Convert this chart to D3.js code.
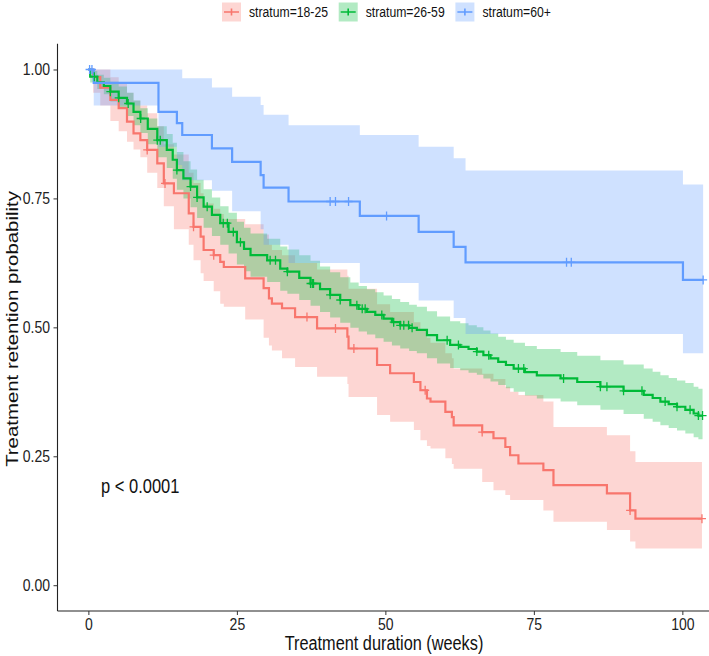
<!DOCTYPE html>
<html>
<head>
<meta charset="utf-8">
<script src="https://cdn.jsdelivr.net/npm/d3@7"></script>
<style>
  html, body { margin: 0; padding: 0; background: #fff; }
  text { font-family: "Liberation Sans", Arial, sans-serif; }
</style>
</head>
<body>
<div id="chart"></div>
<script>
// strata
var strata = ["stratum=18-25", "stratum=26-59", "stratum=60+"];
var colors = ["#F8766D", "#00BA38", "#619CFF"];

// Kaplan-Meier steps: [week, survival, lower CI, upper CI]
var steps1825 = [
  [0, 1.000, 1.000, 1.000], [0.8, 0.985, 0.955, 1.000], [2.0, 0.965, 0.930, 1.000],
  [3.7, 0.941, 0.900, 0.985], [5.1, 0.925, 0.880, 0.975], [6.5, 0.899, 0.860, 0.955],
  [7.6, 0.876, 0.845, 0.940], [8.75, 0.863, 0.830, 0.930], [9.9, 0.844, 0.800, 0.915],
  [11.6, 0.818, 0.770, 0.890], [12.7, 0.779, 0.735, 0.855], [14.4, 0.760, 0.690, 0.835],
  [16.9, 0.721, 0.660, 0.800], [17.7, 0.695, 0.630, 0.780], [18.9, 0.676, 0.605, 0.760],
  [19.4, 0.650, 0.590, 0.740], [21.1, 0.640, 0.570, 0.730], [22.2, 0.627, 0.546, 0.720],
  [22.8, 0.617, 0.540, 0.710], [26.4, 0.595, 0.515, 0.700], [29.5, 0.576, 0.480, 0.680],
  [30.4, 0.556, 0.465, 0.660], [30.9, 0.546, 0.455, 0.650], [32.6, 0.537, 0.440, 0.640],
  [34.8, 0.520, 0.423, 0.625], [38.5, 0.498, 0.404, 0.612], [43.6, 0.482, 0.390, 0.600],
  [43.8, 0.459, 0.365, 0.575], [48.6, 0.427, 0.330, 0.545], [50.8, 0.411, 0.317, 0.530],
  [54.8, 0.394, 0.301, 0.510], [55.9, 0.378, 0.281, 0.495], [57.0, 0.362, 0.270, 0.480],
  [57.6, 0.356, 0.265, 0.470], [60.1, 0.336, 0.246, 0.450], [61.2, 0.326, 0.235, 0.440],
  [61.5, 0.310, 0.226, 0.420], [66.3, 0.297, 0.200, 0.410], [68.2, 0.285, 0.184, 0.400],
  [70.2, 0.268, 0.175, 0.385], [71.0, 0.252, 0.165, 0.375], [72.4, 0.236, 0.165, 0.369],
  [76.6, 0.223, 0.145, 0.356], [78.3, 0.194, 0.123, 0.307], [87.3, 0.178, 0.107, 0.291],
  [91.2, 0.145, 0.085, 0.260], [92.1, 0.129, 0.071, 0.239]
];
var steps2659 = [
  [0, 1.000, 1.000, 1.000], [0.3, 0.986, 0.975, 0.997], [1.5, 0.975, 0.962, 0.990],
  [2.6, 0.968, 0.952, 0.984], [3.7, 0.957, 0.938, 0.976], [5.1, 0.945, 0.924, 0.967],
  [6.5, 0.934, 0.910, 0.955], [7.6, 0.918, 0.892, 0.940], [8.75, 0.905, 0.877, 0.925],
  [10.0, 0.885, 0.855, 0.905], [11.6, 0.863, 0.830, 0.890], [13.2, 0.844, 0.809, 0.875],
  [14.2, 0.825, 0.788, 0.858], [14.9, 0.805, 0.767, 0.840], [16.0, 0.789, 0.750, 0.822],
  [17.2, 0.773, 0.733, 0.806], [18.3, 0.752, 0.712, 0.786], [19.4, 0.734, 0.693, 0.768],
  [20.8, 0.718, 0.677, 0.752], [22.2, 0.702, 0.660, 0.735], [23.6, 0.685, 0.643, 0.722],
  [25.0, 0.665, 0.622, 0.705], [26.2, 0.652, 0.609, 0.693], [27.3, 0.640, 0.598, 0.682],
  [30.1, 0.630, 0.588, 0.672], [32.3, 0.614, 0.571, 0.657], [33.5, 0.608, 0.565, 0.651],
  [35.5, 0.596, 0.553, 0.640], [37.4, 0.585, 0.542, 0.629], [39.0, 0.574, 0.530, 0.618],
  [40.7, 0.563, 0.519, 0.607], [42.4, 0.553, 0.509, 0.597], [44.1, 0.543, 0.499, 0.587],
  [45.5, 0.536, 0.492, 0.580], [46.9, 0.530, 0.486, 0.574], [48.3, 0.524, 0.479, 0.568],
  [49.7, 0.517, 0.472, 0.562], [51.1, 0.510, 0.465, 0.555], [52.5, 0.504, 0.459, 0.549],
  [54.0, 0.499, 0.454, 0.544], [55.3, 0.495, 0.450, 0.540], [57.0, 0.485, 0.440, 0.531],
  [58.7, 0.475, 0.430, 0.521], [60.9, 0.466, 0.421, 0.512], [62.6, 0.462, 0.417, 0.508],
  [64.0, 0.458, 0.412, 0.504], [65.4, 0.453, 0.408, 0.500], [66.5, 0.446, 0.401, 0.494],
  [67.7, 0.440, 0.395, 0.488], [69.0, 0.433, 0.388, 0.482], [70.3, 0.427, 0.382, 0.476],
  [71.6, 0.420, 0.375, 0.470], [73.5, 0.413, 0.368, 0.464], [75.5, 0.407, 0.362, 0.458],
  [79.5, 0.401, 0.356, 0.452], [82.3, 0.394, 0.349, 0.445], [86.2, 0.385, 0.340, 0.436],
  [90.1, 0.377, 0.332, 0.428], [93.5, 0.369, 0.323, 0.420], [95.0, 0.363, 0.317, 0.414],
  [96.3, 0.356, 0.310, 0.407], [97.7, 0.351, 0.305, 0.402], [99.1, 0.346, 0.300, 0.397],
  [100.5, 0.340, 0.294, 0.392], [101.9, 0.333, 0.287, 0.385], [102.7, 0.329, 0.283, 0.381]
];
var steps60 = [
  [0, 1.000, 1.000, 1.000], [0.9, 0.974, 0.930, 1.000], [11.8, 0.918, 0.850, 1.000],
  [14.9, 0.896, 0.815, 1.000], [15.8, 0.873, 0.785, 0.983], [20.8, 0.847, 0.765, 0.965],
  [24.2, 0.821, 0.725, 0.947], [29.0, 0.795, 0.690, 0.931], [29.5, 0.771, 0.660, 0.912],
  [33.7, 0.744, 0.625, 0.892], [45.7, 0.716, 0.586, 0.873], [55.6, 0.685, 0.552, 0.850],
  [61.5, 0.656, 0.518, 0.828], [63.5, 0.626, 0.487, 0.804], [100.1, 0.592, 0.450, 0.777]
];
var endWeeks = [103.3, 103.4, 103.5];

// censoring times (weeks)
var censor1825 = [9.9, 12.9, 17.7, 21.1, 36.8, 41.6, 44.7, 56.7, 66.3, 91.2, 103.3];
var censor2659 = [1.0, 3.7, 5.1, 6.7, 8.8, 11.6, 12.1, 14.9, 17.2, 18.3, 20.0, 22.7, 23.4,
  24.4, 25.6, 30.6, 31.5, 33.5, 37.4, 37.7, 37.9, 40.7, 42.4, 45.2, 46.1, 46.6, 49.4, 51.4,
  52.5, 53.1, 53.9, 54.5, 60.4, 62.3, 65.4, 67.4, 72.4, 73.3, 80.0, 86.2, 87.3, 90.1, 93.2,
  97.1, 99.1, 101.3, 102.7, 103.4];
var censor60 = [0.2, 0.6, 40.7, 41.6, 43.8, 50.2, 80.5, 81.3, 103.5];

var xTicks = [0, 25, 50, 75, 100];
var yTicks = [0, 0.25, 0.5, 0.75, 1];
var pText = "p < 0.0001";

(function() {
  var series = [steps1825, steps2659, steps60];
  var censors = [censor1825, censor2659, censor60];

  var W = 709, H = 656;
  var svg = d3.select("#chart").append("svg")
    .attr("width", W).attr("height", H);

  // panel (theme_classic, data expanded 5% on each side)
  var pLeft = 57.5, pRight = 737, pTop = 43.7, pBottom = 611;
  var x = d3.scaleLinear().domain([-5.2, 109.2]).range([pLeft, pRight]);
  var y = d3.scaleLinear().domain([-0.05, 1.05]).range([pBottom, pTop]);

  // glyphs in the picture are stretched vertically
  var stretch = 1.2;

  svg.append("clipPath").attr("id", "panel")
    .append("rect").attr("x", pLeft).attr("y", pTop)
    .attr("width", pRight - pLeft).attr("height", pBottom - pTop);

  var plot = svg.append("g").attr("clip-path", "url(#panel)");

  function withEnd(rows, end) {
    var last = rows[rows.length - 1];
    return rows.concat([[end, last[1], last[2], last[3]]]);
  }

  var band = d3.area().curve(d3.curveStepAfter)
    .x(function(d) { return x(d[0]); })
    .y0(function(d) { return y(d[2]); })
    .y1(function(d) { return y(d[3]); });

  var line = d3.line().curve(d3.curveStepAfter)
    .x(function(d) { return x(d[0]); })
    .y(function(d) { return y(d[1]); });

  // ribbons
  series.forEach(function(rows, i) {
    plot.append("path")
      .datum(withEnd(rows, endWeeks[i]))
      .attr("fill", colors[i])
      .attr("fill-opacity", 0.3)
      .attr("d", band);
  });

  // survival curves
  series.forEach(function(rows, i) {
    plot.append("path")
      .datum(withEnd(rows, endWeeks[i]))
      .attr("fill", "none")
      .attr("stroke", colors[i])
      .attr("stroke-width", 2.2)
      .attr("d", line);
  });

  // censor marks
  function survAt(rows, t) {
    var s = rows[0][1];
    rows.forEach(function(r) { if (r[0] <= t) s = r[1]; });
    return s;
  }
  var cross = "M-4,0H4M0,-4.5V4.5";
  censors.forEach(function(times, i) {
    plot.append("g").selectAll("path")
      .data(times)
      .enter().append("path")
      .attr("transform", function(t) {
        return "translate(" + x(t) + "," + y(survAt(series[i], t)) + ")";
      })
      .attr("d", cross)
      .attr("stroke", colors[i])
      .attr("stroke-width", 1.3)
      .attr("fill", "none");
  });

  // axes
  var gx = svg.append("g")
    .attr("transform", "translate(0," + pBottom + ")")
    .call(d3.axisBottom(x).tickValues(xTicks).tickSize(4).tickFormat(d3.format("d")));
  gx.select(".domain").attr("d", "M" + pLeft + ",0H" + pRight);
  gx.selectAll("text")
    .attr("y", 11.3).attr("dy", "0.35em")
    .attr("transform", "scale(1," + stretch + ")");

  var gy = svg.append("g")
    .attr("transform", "translate(" + pLeft + ",0)")
    .call(d3.axisLeft(y).tickValues(yTicks).tickSize(4).tickFormat(d3.format(".2f")));
  gy.select(".domain").attr("d", "M0," + pTop + "V" + pBottom);
  gy.selectAll("text")
    .attr("x", -7.5)
    .attr("transform", "scale(1," + stretch + ")");

  [gx, gy].forEach(function(g) {
    g.select(".domain").attr("stroke", "#222").attr("stroke-width", 1.1);
    g.selectAll(".tick line").attr("stroke", "#333").attr("stroke-width", 1);
    g.selectAll("text")
      .attr("fill", "#222")
      .style("font-size", "14px")
      .style("font-family", "'Liberation Sans', Arial, sans-serif");
  });

  // titles
  svg.append("text")
    .attr("transform", "translate(384,643.5) scale(1," + stretch + ")")
    .attr("text-anchor", "middle")
    .attr("dominant-baseline", "central")
    .style("font-size", "16.3px")
    .attr("fill", "#111")
    .text("Treatment duration (weeks)");

  svg.append("text")
    .attr("transform", "translate(12,329) rotate(-90) scale(" + stretch + ",1)")
    .attr("text-anchor", "middle")
    .attr("dominant-baseline", "central")
    .style("font-size", "17px")
    .attr("fill", "#111")
    .text("Treatment retention probability");

  // p-value
  svg.append("text")
    .attr("transform", "translate(101,486) scale(1," + stretch + ")")
    .attr("dominant-baseline", "central")
    .style("font-size", "16.5px")
    .attr("fill", "#111")
    .text(pText);

  // legend
  var legend = svg.append("g").attr("transform", "translate(222,2.5)");
  var item = legend.selectAll("g").data(strata).enter().append("g")
    .attr("transform", function(d, i) { return "translate(" + (i * 116.7) + ",0)"; });
  item.append("rect")
    .attr("width", 19).attr("height", 19)
    .attr("fill", function(d, i) { return colors[i]; })
    .attr("fill-opacity", 0.3);
  item.append("path")
    .attr("d", "M2,9.5H17M9.5,6V13")
    .attr("stroke", function(d, i) { return colors[i]; })
    .attr("stroke-width", 1.6);
  item.append("text")
    .attr("transform", "translate(27,9.5) scale(1," + stretch + ")")
    .attr("dominant-baseline", "central")
    .style("font-size", "12.2px")
    .attr("fill", "#111")
    .text(function(d) { return d; });
})();
</script>
</body>
</html>
